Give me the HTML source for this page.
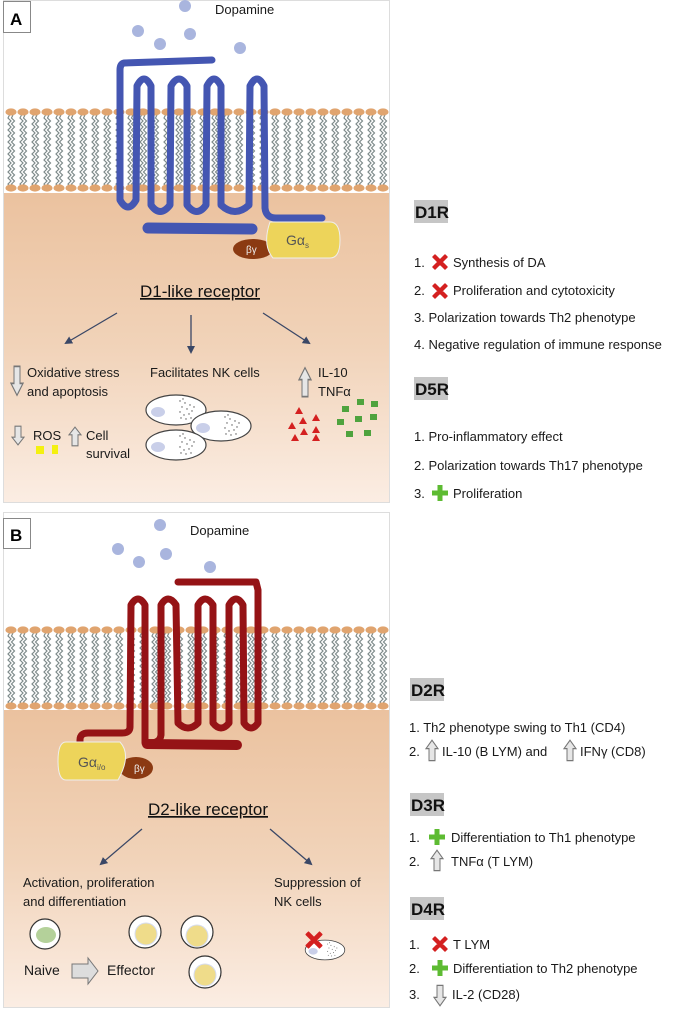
<!DOCTYPE html>
<html><head><meta charset="utf-8"><style>
html,body{margin:0;padding:0;background:#fff;}
svg{display:block;font-family:"Liberation Sans",sans-serif;}
.t{font-size:13px;fill:#1a1a1a;}
.h{font-size:17px;font-weight:bold;fill:#111;}
</style></head><body>
<svg width="685" height="1012" viewBox="0 0 685 1012" xmlns="http://www.w3.org/2000/svg">
<defs>
<linearGradient id="cyt" x1="0" y1="0" x2="0" y2="1">
<stop offset="0" stop-color="#ebc29f"/><stop offset="0.5" stop-color="#f1d3b9"/><stop offset="1" stop-color="#fbede3"/>
</linearGradient>
<pattern id="mem" x="0" y="0" width="12" height="84" patternUnits="userSpaceOnUse">
<path d="M4.5 7 l-1.5 3 l3 3 l-3 3 l3 3 l-3 3 l3 3 l-3 3 l3 3 l-3 3 l3 3 l-3 3 l3 3 l-3 3 l3 3 l-3 3 l3 3 l-3 3 l3 3 l-3 3 l3 3 l-3 3 l3 3 l-3 3 l1.5 2" fill="none" stroke="#7d8a8a" stroke-width="1.2"/>
<path d="M8 7 l-1.5 3 l3 3 l-3 3 l3 3 l-3 3 l3 3 l-3 3 l3 3 l-3 3 l3 3 l-3 3 l3 3 l-3 3 l3 3 l-3 3 l3 3 l-3 3 l3 3 l-3 3 l3 3 l-3 3 l3 3 l-3 3 l1.5 2" fill="none" stroke="#7d8a8a" stroke-width="1.2"/>
<ellipse cx="6" cy="4" rx="5.6" ry="3.6" fill="#e0a46f"/>
<ellipse cx="6" cy="80" rx="5.6" ry="3.6" fill="#e0a46f"/>
</pattern>
<marker id="ar" markerWidth="8" markerHeight="8" refX="6" refY="4" orient="auto" markerUnits="userSpaceOnUse"><path d="M0 0 L8 4 L0 8 Z" fill="#3a4766"/></marker>
<g id="nk"><ellipse cx="0" cy="0" rx="30" ry="15" fill="#fff" stroke="#444" stroke-width="1.2"/><ellipse cx="-18" cy="2" rx="7" ry="5" fill="#c9cfe9"/>
<g fill="#555"><circle cx="4" cy="-9" r=".7"/><circle cx="9" cy="-7" r=".7"/><circle cx="14" cy="-5" r=".7"/><circle cx="6" cy="-3" r=".7"/><circle cx="11" cy="-1" r=".7"/><circle cx="16" cy="1" r=".7"/><circle cx="4" cy="2" r=".7"/><circle cx="8" cy="5" r=".7"/><circle cx="13" cy="4" r=".7"/><circle cx="18" cy="-3" r=".7"/><circle cx="10" cy="9" r=".7"/><circle cx="15" cy="8" r=".7"/><circle cx="5" cy="8" r=".7"/><circle cx="7" cy="-11" r=".7"/></g></g>
<g id="up"><path d="M-3 8 V-2 H-6 L0 -9 L6 -2 H3 V8 Z" fill="#e6e6e6" stroke="#777" stroke-width="1"/></g>
<g id="dn"><path d="M-3 -8 V2 H-6 L0 9 L6 2 H3 V-8 Z" fill="#e6e6e6" stroke="#777" stroke-width="1"/></g>
<g id="x"><path d="M-7 -5 L-5 -7 L0 -2 L5 -7 L7 -5 L2 0 L7 5 L5 7 L0 2 L-5 7 L-7 5 L-2 0 Z" fill="#d42020" stroke="#d42020" stroke-width="1.5" stroke-linejoin="round"/></g>
<g id="p"><path d="M-2.5 -8 H2.5 V-2.5 H8 V2.5 H2.5 V8 H-2.5 V2.5 H-8 V-2.5 H-2.5 Z" fill="#5dbb32"/></g>
</defs>

<!-- PANEL A -->
<rect x="3.5" y="0.5" width="386" height="502" fill="#fff" stroke="#ddd"/>
<rect x="4" y="193" width="385" height="309" fill="url(#cyt)"/>
<g transform="translate(5,108)"><rect x="0" y="0" width="384" height="84" fill="url(#mem)"/></g>
<rect x="3.5" y="1.5" width="27" height="31" fill="#fff" stroke="#888"/>
<text x="10" y="25" style="font-size:17px;font-weight:bold">A</text>
<text x="215" y="14" class="t">Dopamine</text>
<g fill="#a9b5de"><circle cx="185" cy="6" r="6"/><circle cx="138" cy="31" r="6"/><circle cx="190" cy="34" r="6"/><circle cx="160" cy="44" r="6"/><circle cx="240" cy="48" r="6"/></g>
<path d="M212 60 L124 63 Q120 64 120 70 L120 200 Q128 214 136 200 L137 86 Q144 72 151 86 L151 205 Q160 218 170 205 L171 86 Q179 72 187 86 L187 205 Q197 218 206 205 L207 86 Q214 72 221 86 L221 205 Q235 218 249 205 L250 86 Q257 72 264 86 L265 208 Q266 218 276 218 L322 218" fill="none" stroke="#4456b2" stroke-width="7" stroke-linecap="round" stroke-linejoin="round"/>
<path d="M148 228 L252 229" stroke="#4456b2" stroke-width="11" stroke-linecap="round"/>
<ellipse cx="253" cy="249" rx="20" ry="10" fill="#8b3a12"/>
<path d="M270 222 H330 Q340 222 340 240 Q340 258 330 258 H273 Q262 245 270 222 Z" fill="#edd45a" stroke="#eee" stroke-width="1"/>
<text x="246" y="253" style="font-size:10px;fill:#eee">βγ</text>
<text x="286" y="245" style="font-size:14px;fill:#555">Gα<tspan style="font-size:8px" dy="3">s</tspan></text>
<text x="200" y="297" text-anchor="middle" style="font-size:17px;fill:#111;text-decoration:underline">D1-like receptor</text>
<line x1="117" y1="313" x2="66" y2="343" stroke="#3a4766" stroke-width="1.3" marker-end="url(#ar)"/>
<line x1="191" y1="315" x2="191" y2="352" stroke="#3a4766" stroke-width="1.3" marker-end="url(#ar)"/>
<line x1="263" y1="313" x2="309" y2="343" stroke="#3a4766" stroke-width="1.3" marker-end="url(#ar)"/>
<use href="#dn" transform="translate(17 380) scale(1 1.7)"/>
<text x="27" y="377" class="t">Oxidative stress</text>
<text x="27" y="396" class="t">and apoptosis</text>
<text x="150" y="377" class="t">Facilitates NK cells</text>
<use href="#up" transform="translate(305 383) scale(1 1.7)"/>
<text x="318" y="377" class="t">IL-10</text>
<text x="318" y="396" class="t">TNFα</text>
<use href="#dn" transform="translate(18 435) scale(1 1.1)"/>
<text x="33" y="440" class="t">ROS</text>
<use href="#up" transform="translate(75 437) scale(1 1.1)"/>
<text x="86" y="440" class="t">Cell</text>
<text x="86" y="458" class="t">survival</text>
<rect x="36" y="446" width="8" height="8" fill="#f4f010"/><rect x="52" y="445" width="6" height="9" fill="#f4f010"/>
<use href="#nk" x="176" y="410"/><use href="#nk" x="221" y="426"/><use href="#nk" x="176" y="445"/>
<g fill="#d42020"><path d="M299 407 l4 7 h-8z"/><path d="M303 417 l4 7 h-8z"/><path d="M316 414 l4 7 h-8z"/><path d="M292 422 l4 7 h-8z"/><path d="M316 426 l4 7 h-8z"/><path d="M304 428 l4 7 h-8z"/><path d="M295 434 l4 7 h-8z"/><path d="M316 434 l4 7 h-8z"/></g>
<g fill="#4fa33e"><rect x="342" y="406" width="7" height="6"/><rect x="357" y="399" width="7" height="6"/><rect x="371" y="401" width="7" height="6"/><rect x="337" y="419" width="7" height="6"/><rect x="355" y="416" width="7" height="6"/><rect x="370" y="414" width="7" height="6"/><rect x="346" y="431" width="7" height="6"/><rect x="364" y="430" width="7" height="6"/></g>

<!-- PANEL B -->
<rect x="3.5" y="512.5" width="386" height="495" fill="#fff" stroke="#ddd"/>
<rect x="4" y="710" width="385" height="297" fill="url(#cyt)"/>
<g transform="translate(5,626)"><rect x="0" y="0" width="384" height="84" fill="url(#mem)"/></g>
<rect x="3.5" y="518.5" width="27" height="30" fill="#fff" stroke="#888"/>
<text x="10" y="541" style="font-size:17px;font-weight:bold">B</text>
<text x="190" y="535" class="t">Dopamine</text>
<g fill="#a9b5de"><circle cx="160" cy="525" r="6"/><circle cx="118" cy="549" r="6"/><circle cx="166" cy="554" r="6"/><circle cx="139" cy="562" r="6"/><circle cx="210" cy="567" r="6"/></g>
<path d="M178 582 L256 582 L258 590 L258 723 Q251 733 244 723 L243 605 Q236 593 229 605 L229 723 Q221 733 213 723 L213 605 Q205 593 198 605 L198 723 Q188 733 178 723 L176 605 Q168 593 161 605 L161 735 Q160 743 150 743 L145 743 L145 605 Q138 593 131 605 L130 727 Q130 733 122 733 L88 733 Q80 733 80 740 L80 746" fill="none" stroke="#951316" stroke-width="7" stroke-linecap="round" stroke-linejoin="round"/>
<path d="M147 744 L237 745" stroke="#951316" stroke-width="10" stroke-linecap="round"/>
<ellipse cx="136" cy="768" rx="17" ry="11" fill="#8b3a12"/>
<path d="M66 742 H120 Q132 755 118 780 H66 Q58 780 58 761 Q58 742 66 742 Z" fill="#edd45a" stroke="#eee" stroke-width="1"/>
<text x="78" y="767" style="font-size:14px;fill:#555">Gα<tspan style="font-size:8px" dy="3">i/o</tspan></text>
<text x="134" y="772" style="font-size:10px;fill:#eee">βγ</text>
<text x="208" y="815" text-anchor="middle" style="font-size:17px;fill:#111;text-decoration:underline">D2-like receptor</text>
<line x1="142" y1="829" x2="101" y2="864" stroke="#3a4766" stroke-width="1.3" marker-end="url(#ar)"/>
<line x1="270" y1="829" x2="311" y2="864" stroke="#3a4766" stroke-width="1.3" marker-end="url(#ar)"/>
<text x="23" y="887" class="t">Activation, proliferation</text>
<text x="23" y="906" class="t">and differentiation</text>
<text x="274" y="887" class="t">Suppression of</text>
<text x="274" y="906" class="t">NK cells</text>
<circle cx="45" cy="934" r="15" fill="#fff" stroke="#333" stroke-width="1.2"/><ellipse cx="46" cy="935" rx="10" ry="8" fill="#b4d19a"/>
<g><circle cx="145" cy="932" r="16" fill="#fff" stroke="#333" stroke-width="1.2"/><circle cx="146" cy="934" r="11" fill="#efdc8a" stroke="#d6dcef"/></g>
<g><circle cx="197" cy="932" r="16" fill="#fff" stroke="#333" stroke-width="1.2"/><circle cx="197" cy="936" r="11" fill="#efdc8a" stroke="#d6dcef"/></g>
<g><circle cx="205" cy="972" r="16" fill="#fff" stroke="#333" stroke-width="1.2"/><circle cx="205" cy="975" r="11" fill="#efdc8a" stroke="#d6dcef"/></g>
<text x="24" y="975" class="t" style="font-size:14px">Naive</text>
<path d="M72 964 H88 V958 L98 971 L88 984 V978 H72 Z" fill="#ddd" stroke="#777"/>
<text x="107" y="975" class="t" style="font-size:14px">Effector</text>
<use href="#nk" transform="translate(325 950) scale(0.66)"/>
<use href="#x" transform="translate(314 940) scale(1.1)"/>

<!-- RIGHT TEXT -->
<rect x="414" y="200" width="34" height="23" fill="#c6c6c6"/><text x="415" y="218" class="h">D1R</text>
<text x="414" y="267" class="t">1.</text><use href="#x" x="440" y="262"/><text x="453" y="267" class="t">Synthesis of DA</text>
<text x="414" y="295" class="t">2.</text><use href="#x" x="440" y="291"/><text x="453" y="295" class="t">Proliferation and cytotoxicity</text>
<text x="414" y="322" class="t">3. Polarization towards Th2 phenotype</text>
<text x="414" y="349" class="t">4. Negative regulation of immune response</text>
<rect x="414" y="377" width="34" height="23" fill="#c6c6c6"/><text x="415" y="395" class="h">D5R</text>
<text x="414" y="441" class="t">1. Pro-inflammatory effect</text>
<text x="414" y="470" class="t">2. Polarization towards Th17 phenotype</text>
<text x="414" y="498" class="t">3.</text><use href="#p" x="440" y="493"/><text x="453" y="498" class="t">Proliferation</text>

<rect x="410" y="678" width="34" height="23" fill="#c6c6c6"/><text x="411" y="696" class="h">D2R</text>
<text x="409" y="732" class="t">1. Th2 phenotype swing to Th1 (CD4)</text>
<text x="409" y="756" class="t">2.</text><use href="#up" transform="translate(432 751) scale(1 1.2)"/><text x="442" y="756" class="t">IL-10 (B LYM) and</text><use href="#up" transform="translate(570 751) scale(1 1.2)"/><text x="580" y="756" class="t">IFNγ (CD8)</text>
<rect x="410" y="793" width="34" height="23" fill="#c6c6c6"/><text x="411" y="811" class="h">D3R</text>
<text x="409" y="842" class="t">1.</text><use href="#p" x="437" y="837"/><text x="451" y="842" class="t">Differentiation to Th1 phenotype</text>
<text x="409" y="866" class="t">2.</text><use href="#up" transform="translate(437 861) scale(1 1.2)"/><text x="451" y="866" class="t">TNFα (T LYM)</text>
<rect x="410" y="897" width="34" height="23" fill="#c6c6c6"/><text x="411" y="915" class="h">D4R</text>
<text x="409" y="949" class="t">1.</text><use href="#x" x="440" y="944"/><text x="453" y="949" class="t">T LYM</text>
<text x="409" y="973" class="t">2.</text><use href="#p" x="440" y="968"/><text x="453" y="973" class="t">Differentiation to Th2 phenotype</text>
<text x="409" y="999" class="t">3.</text><use href="#dn" transform="translate(440 995) scale(1 1.2)"/><text x="452" y="999" class="t">IL-2 (CD28)</text>
</svg>
</body></html>
